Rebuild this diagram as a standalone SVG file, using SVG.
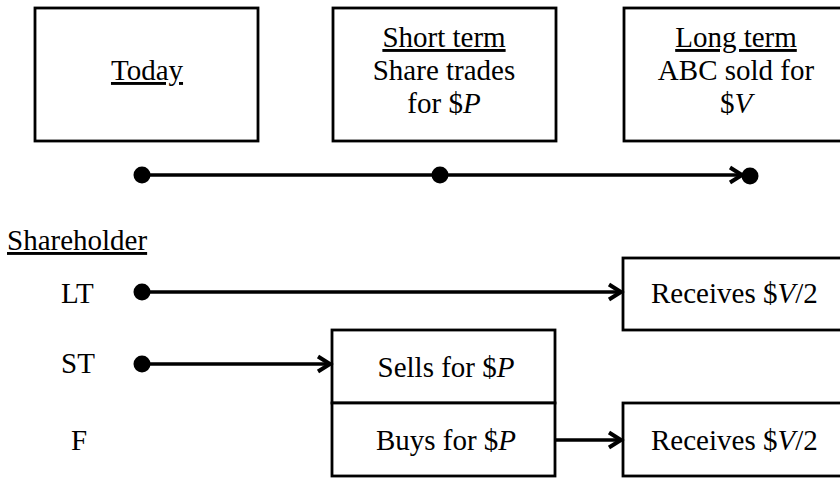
<svg xmlns="http://www.w3.org/2000/svg" width="840" height="478" viewBox="0 0 840 478">
<defs>
<style>
.box{fill:#fff;stroke:#000;stroke-width:2.8}
.t{font-family:"Liberation Serif","Times New Roman",serif;font-size:29px;fill:#000}
.c{text-anchor:middle}
.u{text-decoration:underline}
.ln{stroke:#000;stroke-width:3.4;fill:none}
.dot{fill:#000}
</style>
<marker id="ah" markerUnits="userSpaceOnUse" markerWidth="20" markerHeight="20" refX="15" refY="10" orient="auto" viewBox="0 0 20 20">
<path d="M3,2.5 L15,10 L3,17.5" fill="none" stroke="#000" stroke-width="4" stroke-linejoin="miter"/>
</marker>
</defs>
<rect width="840" height="478" fill="#fff"/>
<g id="today">
<rect class="box" x="35" y="8" width="223" height="133"/>
<text class="t c u" x="147" y="80">Today</text>
</g>
<g id="short-term">
<rect class="box" x="333" y="8" width="223" height="133"/>
<text class="t c" x="444" y="47"><tspan class="u">Short term</tspan></text>
<text class="t c" x="444" y="80">Share trades</text>
<text class="t c" x="444" y="113">for $<tspan font-style="italic">P</tspan></text>
</g>
<g id="long-term">
<rect class="box" x="624" y="8" width="225" height="133"/>
<text class="t c" x="736" y="47"><tspan class="u">Long term</tspan></text>
<text class="t c" x="736" y="80">ABC sold for</text>
<text class="t c" x="736" y="113">$<tspan font-style="italic">V</tspan></text>
</g>
<g id="labels">
<text class="t u" x="7" y="250">Shareholder</text>
<text class="t" x="61" y="303">LT</text>
<text class="t" x="61" y="373">ST</text>
<text class="t" x="71" y="450">F</text>
</g>
<g id="sells">
<rect class="box" x="332" y="330" width="223" height="73"/>
<text class="t c" x="446" y="377">Sells for $<tspan font-style="italic">P</tspan></text>
</g>
<g id="buys">
<rect class="box" x="332" y="403" width="223" height="73"/>
<text class="t c" x="446" y="450">Buys for $<tspan font-style="italic">P</tspan></text>
</g>
<g id="lt-receives">
<rect class="box" x="623" y="258" width="225" height="72"/>
<text class="t" x="651" y="303">Receives $<tspan font-style="italic">V</tspan>/2</text>
</g>
<g id="f-receives">
<rect class="box" x="623" y="403" width="225" height="73"/>
<text class="t" x="651" y="450">Receives $<tspan font-style="italic">V</tspan>/2</text>
</g>
<g id="connectors">
<line class="ln" x1="142" y1="175" x2="742" y2="175" marker-end="url(#ah)"/>
<circle class="dot" cx="142" cy="175" r="8.5"/>
<circle class="dot" cx="440" cy="175" r="8.5"/>
<circle class="dot" cx="750" cy="176" r="8.5"/>
<line class="ln" x1="142" y1="292" x2="621" y2="292" marker-end="url(#ah)"/>
<circle class="dot" cx="142" cy="292" r="8.5"/>
<line class="ln" x1="142" y1="364" x2="330" y2="364" marker-end="url(#ah)"/>
<circle class="dot" cx="142" cy="364" r="8.5"/>
<line class="ln" x1="555" y1="440" x2="621" y2="440" marker-end="url(#ah)"/>
</g>
</svg>
